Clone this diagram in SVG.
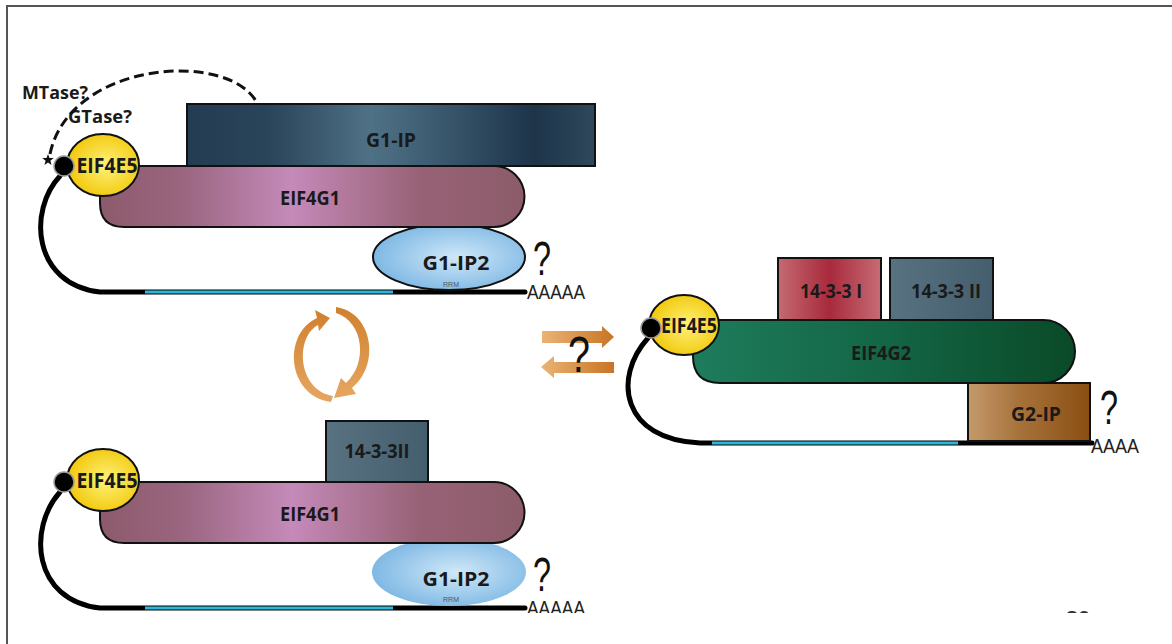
<svg xmlns="http://www.w3.org/2000/svg" width="1172" height="644" viewBox="0 0 1172 644">
<defs>
<style>
.lbl{font-family:"Open Sans","Liberation Sans",sans-serif;font-weight:700;fill:#1a1a1a;text-anchor:middle}
.q{font-family:"Liberation Sans",sans-serif;font-weight:400;fill:#111}
.polyA{font-family:"Liberation Sans",sans-serif;font-weight:400;fill:#222}
.rrm{font-family:"Liberation Sans",sans-serif;font-size:7px;fill:#555;text-anchor:middle}
.ol{stroke:#111;stroke-width:2}
.rna{fill:none;stroke:#000;stroke-width:5;stroke-linecap:round}
.cyan{stroke:#2bb6da;stroke-width:3}
</style>
<linearGradient id="gIP" x1="0" x2="1" y1="0" y2="0">
<stop offset="0" stop-color="#243c52"/><stop offset="0.2" stop-color="#2a4459"/><stop offset="0.45" stop-color="#4f7186"/><stop offset="0.6" stop-color="#3d5c71"/><stop offset="0.85" stop-color="#1d3449"/><stop offset="1" stop-color="#2e485c"/>
</linearGradient>
<linearGradient id="gG1" x1="0" x2="1" y1="0" y2="0">
<stop offset="0" stop-color="#8c5a6c"/><stop offset="0.2" stop-color="#9a6680"/><stop offset="0.45" stop-color="#c58ab9"/><stop offset="0.75" stop-color="#986276"/><stop offset="1" stop-color="#8c5c6a"/>
</linearGradient>
<radialGradient id="gIP2" cx="0.55" cy="0.5" r="0.6">
<stop offset="0" stop-color="#cfe8f8"/><stop offset="1" stop-color="#78b4e2"/>
</radialGradient>
<radialGradient id="gE5" cx="0.55" cy="0.5" r="0.6">
<stop offset="0" stop-color="#fff27a"/><stop offset="1" stop-color="#f0c400"/>
</radialGradient>
<linearGradient id="g1" x1="0" x2="1" y1="0" y2="0">
<stop offset="0" stop-color="#c46a72"/><stop offset="0.5" stop-color="#a82a3c"/><stop offset="1" stop-color="#c66c74"/>
</linearGradient>
<linearGradient id="g2" x1="0" x2="1" y1="0" y2="0">
<stop offset="0" stop-color="#587282"/><stop offset="1" stop-color="#455e6e"/>
</linearGradient>
<linearGradient id="gG2" x1="0" x2="1" y1="0" y2="0">
<stop offset="0" stop-color="#1e7c5c"/><stop offset="0.5" stop-color="#136646"/><stop offset="1" stop-color="#0a4a28"/>
</linearGradient>
<linearGradient id="gG2IP" x1="0" x2="1" y1="0" y2="0">
<stop offset="0" stop-color="#c49a6c"/><stop offset="0.4" stop-color="#a8743c"/><stop offset="1" stop-color="#8a4e12"/>
</linearGradient>
<linearGradient id="gOr" x1="0" x2="1" y1="0" y2="0">
<stop offset="0" stop-color="#eab474"/><stop offset="1" stop-color="#c87424"/>
</linearGradient>
<linearGradient id="gOrV" x1="0" x2="0" y1="0" y2="1">
<stop offset="0" stop-color="#d0802e"/><stop offset="1" stop-color="#e6a660"/>
</linearGradient>
<clipPath id="page"><rect x="0" y="0" width="1172" height="613"/></clipPath>
</defs>
<rect width="1172" height="644" fill="#fff"/>
<g id="frame" fill="none" stroke="#555" stroke-width="2">
<path d="M7 644 V6 H1172"/>
</g>
<g clip-path="url(#page)">
<!-- ===== top complex ===== -->
<g id="rna-top">
<path class="rna" d="M60 176 C28 210 32 284 100 292 H525"/>
<line class="cyan" x1="145" y1="292" x2="393" y2="292"/>
</g>
<g id="g1ip2-top">
<ellipse cx="449" cy="257" rx="76" ry="33" fill="url(#gIP2)" class="ol"/>
<text class="lbl" x="456" y="270" font-size="20" textLength="67" lengthAdjust="spacingAndGlyphs">G1-IP2</text>
<text class="rrm" x="451" y="287">RRM</text>
</g>
<g id="eif4g1-top">
<path d="M100 166 H494 A30.5 30.5 0 0 1 494 227 H124 Q100 227 100 203 Z" fill="url(#gG1)" class="ol"/>
<text class="lbl" x="310" y="205" font-size="20" textLength="60" lengthAdjust="spacingAndGlyphs">EIF4G1</text>
</g>
<g id="g1ip">
<rect x="187" y="104" width="408" height="62" fill="url(#gIP)" class="ol"/>
<text class="lbl" x="391" y="147" font-size="20" textLength="50" lengthAdjust="spacingAndGlyphs">G1-IP</text>
</g>
<g id="eif4e5-top">
<ellipse cx="103" cy="165" rx="36" ry="31" fill="url(#gE5)" class="ol"/>
<text class="lbl" x="107" y="173" font-size="21" textLength="61" lengthAdjust="spacingAndGlyphs">EIF4E5</text>
</g>
<g id="cap-top">
<circle cx="64" cy="166" r="10" fill="#000" stroke="#999" stroke-width="1.5"/>
<polygon points="48,154 49.5,158 53.7,158.1 50.4,160.8 51.5,164.9 48,162.5 44.5,164.9 45.6,160.8 42.3,158.1 46.5,158" fill="#111"/>
</g>
<g id="enzymes">
<text class="lbl" x="55" y="99" font-size="17" textLength="66" lengthAdjust="spacingAndGlyphs">MTase?</text>
<text class="lbl" x="100" y="123" font-size="17" textLength="64" lengthAdjust="spacingAndGlyphs">GTase?</text>
</g>
<g id="q-top">
<text class="q" x="533" y="275" font-size="48" textLength="18" lengthAdjust="spacingAndGlyphs">?</text>
<text class="polyA" x="527" y="299" font-size="20" textLength="58" lengthAdjust="spacingAndGlyphs">AAAAA</text>
</g>
<!-- ===== right complex ===== -->
<g id="rna-right">
<path class="rna" d="M648 338 C612 378 622 440 700 443 H1092"/>
<line class="cyan" x1="712" y1="443" x2="958" y2="443"/>
</g>
<g id="g2ip">
<rect x="968" y="383" width="122" height="58" fill="url(#gG2IP)" class="ol"/>
<text class="lbl" x="1036" y="421" font-size="20" textLength="50" lengthAdjust="spacingAndGlyphs">G2-IP</text>
</g>
<g id="eif4g2">
<path d="M693 320 H1043.5 A31.5 31.5 0 0 1 1043.5 383 H720 Q693 383 693 356 Z" fill="url(#gG2)" class="ol"/>
<text class="lbl" x="881" y="360" font-size="20" textLength="60" lengthAdjust="spacingAndGlyphs">EIF4G2</text>
</g>
<g id="p1433-I">
<rect x="778" y="258" width="103" height="62" fill="url(#g1)" class="ol"/>
<text class="lbl" x="831" y="298" font-size="20" textLength="62" lengthAdjust="spacingAndGlyphs">14-3-3 I</text>
</g>
<g id="p1433-II">
<rect x="890" y="258" width="103" height="62" fill="url(#g2)" class="ol"/>
<text class="lbl" x="946" y="298" font-size="20" textLength="70" lengthAdjust="spacingAndGlyphs">14-3-3 II</text>
</g>
<g id="eif4e5-right">
<ellipse cx="684" cy="325" rx="35" ry="30" fill="url(#gE5)" class="ol"/>
<text class="lbl" x="689" y="333" font-size="21" textLength="56" lengthAdjust="spacingAndGlyphs">EIF4E5</text>
</g>
<g id="cap-right">
<circle cx="651" cy="328" r="10" fill="#000" stroke="#999" stroke-width="1.5"/>
</g>
<g id="q-right">
<text class="q" x="1100" y="424" font-size="48" textLength="18" lengthAdjust="spacingAndGlyphs">?</text>
<text class="polyA" x="1091" y="453" font-size="20" textLength="48" lengthAdjust="spacingAndGlyphs">AAAA</text>
</g>
<!-- ===== bottom complex ===== -->
<g id="rna-bottom">
<path class="rna" d="M60 492 C28 528 32 600 100 608 H525"/>
<line class="cyan" x1="145" y1="608" x2="393" y2="608"/>
</g>
<g id="g1ip2-bottom">
<ellipse cx="449" cy="572" rx="77" ry="34" fill="url(#gIP2)"/>
<text class="lbl" x="456" y="586" font-size="20" textLength="67" lengthAdjust="spacingAndGlyphs">G1-IP2</text>
<text class="rrm" x="451" y="602">RRM</text>
</g>
<g id="eif4g1-bottom">
<path d="M100 482 H494 A30.5 30.5 0 0 1 494 543 H124 Q100 543 100 519 Z" fill="url(#gG1)" class="ol"/>
<text class="lbl" x="310" y="521" font-size="20" textLength="60" lengthAdjust="spacingAndGlyphs">EIF4G1</text>
</g>
<g id="p1433-II-bottom">
<rect x="326" y="421" width="102" height="61" fill="url(#g2)" class="ol"/>
<text class="lbl" x="377" y="458" font-size="20" textLength="65" lengthAdjust="spacingAndGlyphs">14-3-3II</text>
</g>
<g id="eif4e5-bottom">
<ellipse cx="103" cy="480" rx="36" ry="31" fill="url(#gE5)" class="ol"/>
<text class="lbl" x="107" y="488" font-size="21" textLength="61" lengthAdjust="spacingAndGlyphs">EIF4E5</text>
</g>
<g id="cap-bottom">
<circle cx="64" cy="482" r="10" fill="#000" stroke="#999" stroke-width="1.5"/>
</g>
<g id="q-bottom">
<text class="q" x="533" y="591" font-size="48" textLength="18" lengthAdjust="spacingAndGlyphs">?</text>
<text class="polyA" x="527" y="615" font-size="20" textLength="58" lengthAdjust="spacingAndGlyphs">AAAAA</text>
</g>
<!-- ===== connectors ===== -->
<g id="connectors">
<path d="M50 154 C70 60 230 50 257 103" fill="none" stroke="#111" stroke-width="3" stroke-dasharray="10 5"/>
<path d="M331 402 C287 396 282 334 317 318 L315 310 L330 318 L319 331 L318 325 C295 337 297 390 333 396 Z" fill="url(#gOrV)"/>
<path d="M336 307 C374 313 380 366 352 388 L356 394 L334 398 L341 378 L346 383 C368 363 364 322 336 313 Z" fill="url(#gOrV)"/>
<path d="M542 331 H602 V326 L614 337 L602 348 V343 H542 Z" fill="url(#gOr)"/>
<path d="M614 362 H554 V356 L541 367 L554 378 V373 H614 Z" fill="url(#gOr)"/>
<text class="q" x="568" y="372" font-size="50" font-weight="700" textLength="22" lengthAdjust="spacingAndGlyphs">?</text>
</g>
<text x="1078" y="626" font-family="Liberation Sans,sans-serif" font-size="22" font-weight="700" fill="#333" text-anchor="middle">20</text>
</g>
</svg>
